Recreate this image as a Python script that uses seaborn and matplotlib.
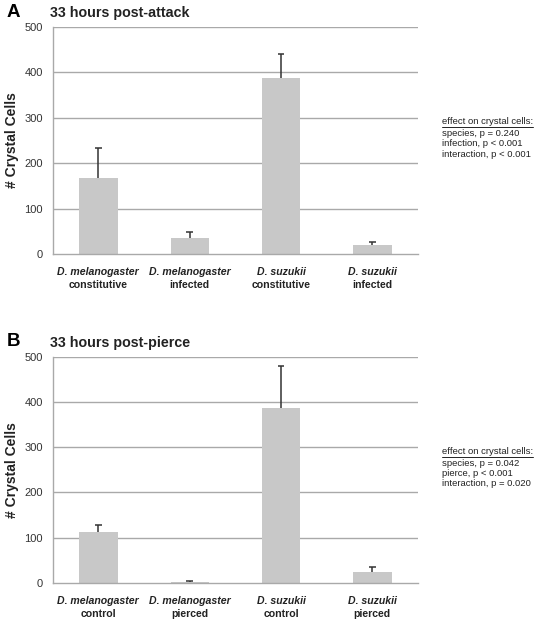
import matplotlib
matplotlib.use("Agg")
import matplotlib.pyplot as plt
import seaborn as sns
import pandas as pd
from matplotlib.lines import Line2D

sns.set_theme(style="white")
plt.rcParams['font.family'] = ['Liberation Sans', 'DejaVu Sans']

# ---- data ----
species = ["D. melanogaster", "D. melanogaster", "D. suzukii", "D. suzukii"]
cond_a = ["constitutive", "infected", "constitutive", "infected"]
mean_a = [167, 35, 388, 19]
err_a = [66, 13, 53, 8]

cond_b = ["control", "pierced", "control", "pierced"]
mean_b = [113, 3, 386, 25]
err_b = [15, 2, 94, 10]

yticks = [0, 100, 200, 300, 400, 500]
title_a = "33 hours post-attack"
title_b = "33 hours post-pierce"
stats_a = ["species, p = 0.240", "infection, p < 0.001", "interaction, p < 0.001"]
stats_b = ["species, p = 0.042", "pierce, p < 0.001", "interaction, p = 0.020"]
stats_head = "effect on crystal cells:"
ylabel = "# Crystal Cells"

W, H = 537, 619
fig = plt.figure(figsize=(W / 100, H / 100), dpi=100)

def px_x(x):
    return x / W

def px_y(y):
    return 1 - y / H

grid_col = "#a9a9a9"
bar_col = "#c8c8c8"
txt_col = "#222222"

def panel(top_px, bot_px, cond, mean, err, letter, title, stats):
    left, right = 52.7, 418
    ax = fig.add_axes([px_x(left), px_y(bot_px), (right - left) / W, (bot_px - top_px) / H])
    labels = [f"{s}\n{c}{i}" for i, (s, c) in enumerate(zip(species, cond))]
    df = pd.DataFrame({"grp": labels, "val": mean})
    sns.barplot(data=df, x="grp", y="val", color=bar_col, saturation=1, width=0.42,
                errorbar=None, ax=ax, zorder=2, edgecolor=bar_col, linewidth=0)
    xs = list(range(len(mean)))
    tops = [m + e for m, e in zip(mean, err)]
    ax.vlines(xs, mean, tops, color="#333333", lw=1.1, zorder=3)
    ax.hlines(tops, [x - 0.035 for x in xs], [x + 0.035 for x in xs], color="#333333",
              lw=1.1, zorder=3)
    ax.set_xlim(-0.5, len(mean) - 0.5)
    ax.set_ylim(0, 500)
    ax.set_yticks(yticks)
    ax.set_yticklabels([str(t) for t in yticks], fontsize=8, color="#333333")
    for t in yticks[1:]:
        ax.axhline(t, color=grid_col, lw=1.0, zorder=1)
    for s in ["top", "right"]:
        ax.spines[s].set_visible(False)
    for s in ["left", "bottom"]:
        ax.spines[s].set_color(grid_col)
        ax.spines[s].set_linewidth(1.0)
    ax.set_xticks(xs)
    ax.set_xticklabels([""] * len(xs))
    ax.set_xticks([x - 0.5 for x in xs] + [xs[-1] + 0.5], minor=True)
    ax.tick_params(axis="x", which="major", length=0)
    ax.tick_params(axis="x", which="minor", length=3, width=1, color=grid_col, direction="out")
    ax.tick_params(axis="y", length=3, width=1, color=grid_col, direction="out", pad=4)
    ax.set_xlabel("")
    ax.set_ylabel("")
    fig.text(px_x(12.5), px_y((top_px + bot_px) / 2), ylabel, rotation=90, fontsize=10,
             fontweight="bold", ha="center", va="center", color=txt_col)
    for x, s, c in zip(xs, species, cond):
        ax.annotate(s, xy=(x, 0), xycoords=("data", "axes fraction"),
                    xytext=(0, -13.3), textcoords="offset points", ha="center", va="center",
                    fontsize=7.6, fontweight="bold", fontstyle="italic", color=txt_col)
        ax.annotate(c, xy=(x, 0), xycoords=("data", "axes fraction"),
                    xytext=(0, -22), textcoords="offset points", ha="center", va="center",
                    fontsize=7.6, fontweight="bold", color=txt_col)
    # letter and title
    fig.text(px_x(7), px_y(top_px - 14.5), letter, fontsize=13.5, fontweight="bold",
             ha="left", va="center", color="black")
    fig.text(px_x(50), px_y(top_px - 13.7), title, fontsize=10.3, fontweight="bold",
             ha="left", va="center", color=txt_col)
    # stats text
    hy = top_px + 95
    head = fig.text(px_x(442), px_y(hy), stats_head, fontsize=6.8, ha="left", va="center",
                    color=txt_col)
    for i, line in enumerate(stats):
        fig.text(px_x(442), px_y(hy + 12 + 10 * i), line, fontsize=6.8, ha="left",
                 va="center", color=txt_col)
    return head

h1 = panel(27, 254, cond_a, mean_a, err_a, "A", title_a, stats_a)
h2 = panel(356.5, 583, cond_b, mean_b, err_b, "B", title_b, stats_b)

fig.canvas.draw()
r = fig.canvas.get_renderer()
for h in (h1, h2):
    bb = h.get_window_extent(r)
    y = bb.y0 - 0.5
    fig.add_artist(Line2D([bb.x0 / W, bb.x1 / W], [y / H, y / H], color=txt_col, lw=0.7,
                          transform=fig.transFigure))

fig.savefig("out.png", dpi=100)
